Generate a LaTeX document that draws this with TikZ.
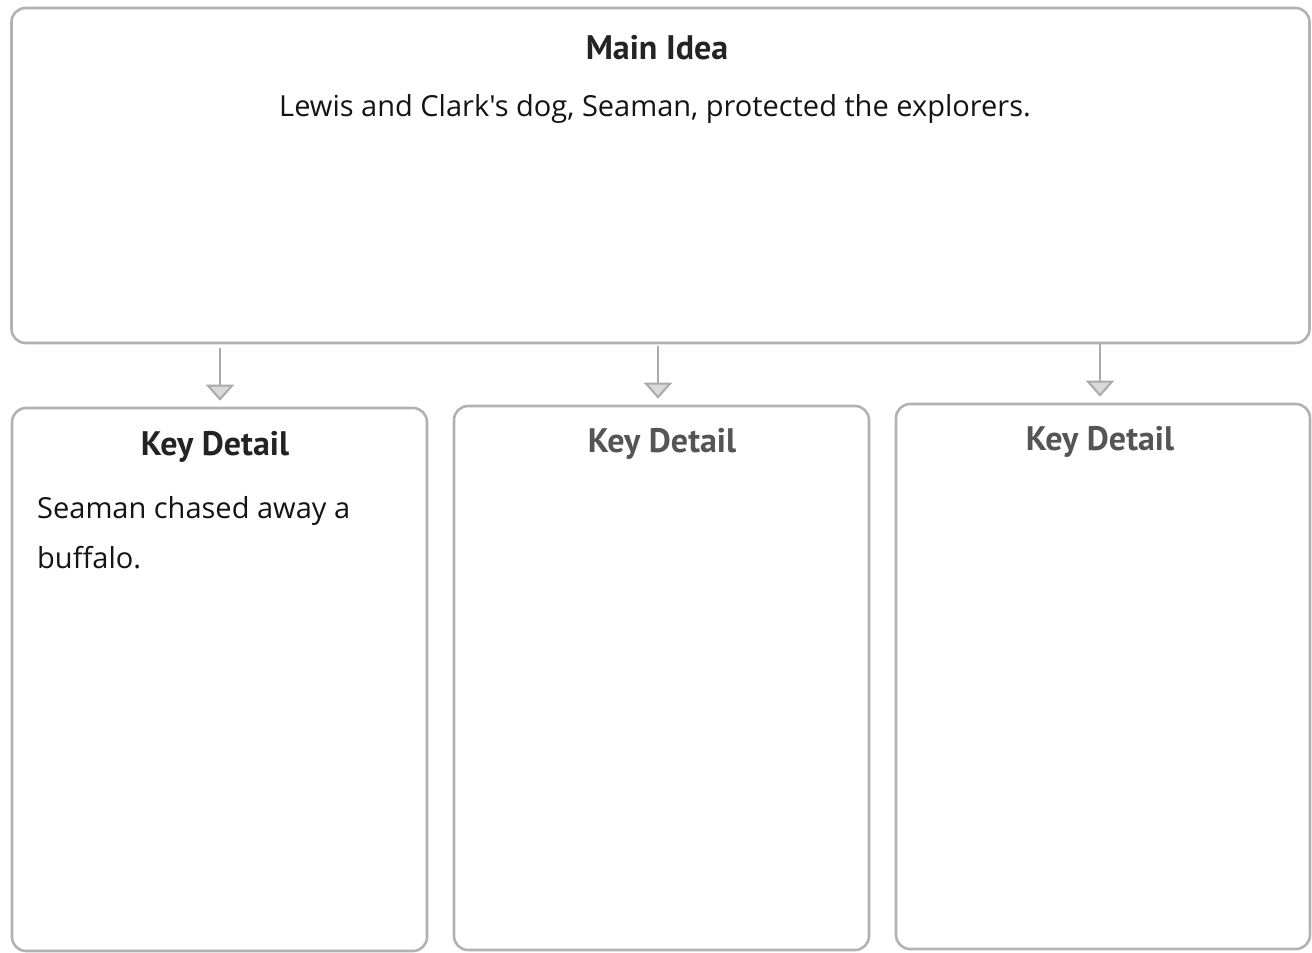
\documentclass[tikz,border=0pt]{standalone}
\usepackage{fontspec}
\setsansfont{PT Sans}
\newfontfamily\handfont{Open Sans}
\usetikzlibrary{positioning, arrows.meta}

\definecolor{framegray}{RGB}{178,178,178}
\definecolor{arrowgray}{RGB}{170,170,170}
\definecolor{headdark}{RGB}{35,35,35}
\definecolor{headgray}{RGB}{85,85,85}
\definecolor{inkblack}{RGB}{20,20,20}

\begin{document}
\begin{tikzpicture}[
    x=1pt, y=-1pt,
    frame/.style={rectangle, draw=framegray, line width=2.6pt, rounded corners=14pt, fill=white},
    heading/.style={font=\sffamily\bfseries\fontsize{34}{40}\selectfont, inner sep=0pt},
    hand/.style={font=\handfont\fontsize{29}{50}\selectfont, text=inkblack, inner sep=0pt},
    arrow/.style={-{Triangle[length=16pt, width=28pt, fill=arrowgray!45]}, draw=arrowgray, line width=2pt}
]
\useasboundingbox (0,0) rectangle (1312,953);

% Main idea box
\node[frame, minimum width=1298pt, minimum height=335pt] (mainbox) at (660.5,175.5) {};
\node[heading, text=headdark] (mainhead) at (657,48) {Main Idea};
\node[hand] (maintext) at (655,109) {Lewis and Clark's dog, Seaman, protected the explorers.};

% Key detail boxes
\node[frame, minimum width=415pt, minimum height=543pt] (detailA) at (219.5,679.5) {};
\node[frame, minimum width=415pt, minimum height=544pt] (detailB) at (661.5,678) {};
\node[frame, minimum width=414pt, minimum height=545pt] (detailC) at (1103,676.5) {};

\node[heading, text=headdark] (headA) at (215,447) {Key Detail};
\node[heading, text=headgray] (headB) at (662,444) {Key Detail};
\node[heading, text=headgray] (headC) at (1100,442) {Key Detail};

\node[hand, anchor=north west, align=left] (detailtext) at (37,496) {Seaman chased away a\\buffalo.};

% Arrows
\coordinate (startA) at (220,348);
\coordinate (startB) at (658,346);
\coordinate (startC) at (1100,344);
\draw[arrow, shorten >=6pt] (startA) -- (startA |- detailA.north);
\draw[arrow, shorten >=6pt] (startB) -- (startB |- detailB.north);
\draw[arrow, shorten >=6pt] (startC) -- (startC |- detailC.north);

\end{tikzpicture}
\end{document}
